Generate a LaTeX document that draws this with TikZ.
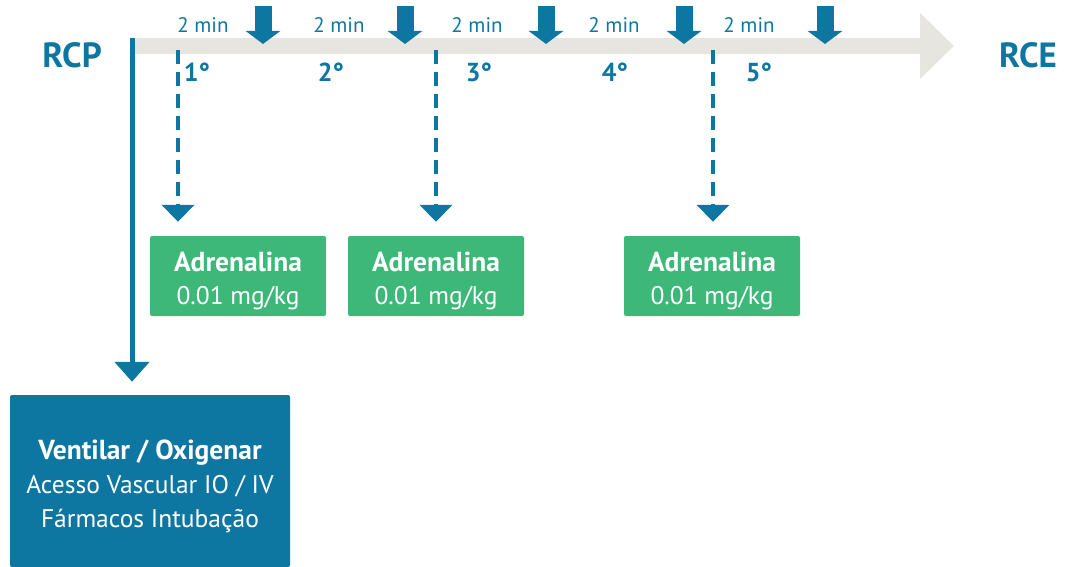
\documentclass[tikz,border=0pt]{standalone}
\usepackage{fontspec}
\setmainfont{PT Sans}
\usepackage{xcolor}
\usetikzlibrary{arrows.meta}

\definecolor{rcpblue}{HTML}{0E77A1}
\definecolor{adrgreen}{HTML}{3DB879}
\definecolor{railgray}{HTML}{E7E5E0}

% bold first line, with a strut that lowers the block a little
\newcommand{\hd}[1]{{\fontsize{27.5}{34}\selectfont\bfseries\rule{0pt}{30pt}#1}}

\begin{document}
\begin{tikzpicture}[
  x=1pt, y=-1pt,
  font=\fontsize{21}{24}\selectfont,
  endpt/.style={text=rcpblue, font=\fontsize{35}{40}\selectfont\bfseries},
  tmin/.style={text=rcpblue},
  cyc/.style={text=rcpblue, font=\fontsize{26}{30}\selectfont\bfseries},
  drug/.style={fill=adrgreen, text=white, rounded corners=2pt, align=center,
               minimum width=176pt, minimum height=80pt, inner sep=0pt,
               font=\fontsize{25.5}{33}\selectfont},
  task/.style={fill=rcpblue, text=white, rounded corners=2pt, align=center,
               minimum width=280pt, minimum height=172pt, inner sep=0pt,
               font=\fontsize{25.5}{34}\selectfont},
  rail/.style={draw=railgray, line width=16pt, -{Triangle[length=34pt,width=64pt]}},
  pulse/.style={draw=rcpblue, line width=17pt, -{Triangle[length=13pt,width=34pt]}},
  dose/.style={draw=rcpblue, line width=4pt, dash pattern=on 14pt off 8pt,
               -{Triangle[length=17pt,width=32pt]}, shorten >=14pt},
  flow/.style={draw=rcpblue, line width=5pt, -{Triangle[length=20pt,width=34pt]},
               shorten >=13pt}
]
\useasboundingbox (0,0) rectangle (1065,567);

% timeline
\coordinate (railS) at (132,46);
\coordinate (railE) at (954,46);
\draw[rail] (railS) -- (railE);

\node[endpt] (rcp) at (72,55) {RCP};
\node[endpt] (rce) at (1028,55) {RCE};

% two-minute cycles
\foreach \x/\lx/\cx [count=\i] in {263/203/197, 405/339/331, 546/477/479, 684/614/615, 825/749/759} {
  \coordinate (p\i top) at (\x,6);
  \coordinate (p\i tip) at (\x,44);
  \draw[pulse] (p\i top) -- (p\i tip);
  \node[tmin] (m\i) at (\lx,25) {2 min};
  \node[cyc] (c\i) at (\cx,72) {\i°};
}

% drug boxes
\node[drug] (ad1) at (238,276) {\hd{Adrenalina}\\0.01 mg/kg};
\node[drug] (ad2) at (436,276) {\hd{Adrenalina}\\0.01 mg/kg};
\node[drug] (ad3) at (712,276) {\hd{Adrenalina}\\0.01 mg/kg};

\node[task] (acls) at (150,481) {\hd{Ventilar / Oxigenar}\\Acesso Vascular IO / IV\\Fármacos Intubação};

\coordinate (d1) at (178,50);
\coordinate (d2) at (436,50);
\coordinate (d3) at (713,50);
\draw[dose] (d1) -- (d1 |- ad1.north);
\draw[dose] (d2) -- (d2 |- ad2.north);
\draw[dose] (d3) -- (d3 |- ad3.north);

\coordinate (cpr) at (132,38);
\draw[flow] (cpr) -- (cpr |- acls.north);
\end{tikzpicture}
\end{document}
